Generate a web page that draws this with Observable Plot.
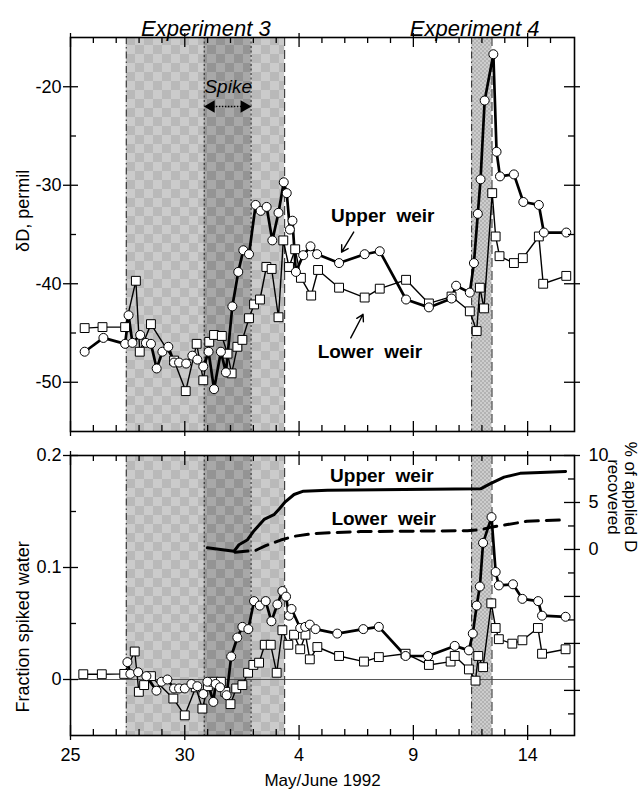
<!DOCTYPE html>
<html><head><meta charset="utf-8">
<script src="https://cdn.jsdelivr.net/npm/d3@7"></script>
<script src="https://cdn.jsdelivr.net/npm/@observablehq/plot@0.6"></script>
<style>
body{margin:0;background:#fff;}
#chart{width:641px;position:relative;}
#chart svg{display:block;}
</style></head><body>
<svg width="0" height="0" style="position:absolute;left:0;top:0">
<defs>
<pattern id="lightPat" width="18" height="18" patternUnits="userSpaceOnUse">
<rect width="18" height="18" fill="#cbcbcb"/>
<rect width="9" height="9" fill="#b9b9b9"/>
<rect x="9" y="9" width="9" height="9" fill="#b9b9b9"/>
</pattern>
<pattern id="darkPat" width="18" height="18" patternUnits="userSpaceOnUse">
<rect width="18" height="18" fill="#a8a8a8"/>
<rect width="9" height="9" fill="#949494"/>
<rect x="9" y="9" width="9" height="9" fill="#949494"/>
</pattern>
<pattern id="finePat" width="4" height="4" patternUnits="userSpaceOnUse">
<rect width="4" height="4" fill="#cdcdcd"/>
<rect width="2" height="2" fill="#b3b3b3"/>
<rect x="2" y="2" width="2" height="2" fill="#b3b3b3"/>
</pattern>
</defs>
</svg>
<div id="chart"></div>
<script>
// ---------- data (t = days after 25 May 1992) ----------
const dayMajor = [0, 5, 10, 15, 20];
const dayLabels = ["25", "30", "4", "9", "14"];
const dayMinor = [0,1,2,3,4,5,6,7,8,9,10,11,12,13,14,15,16,17,18,19,20,21];

const exp3 = [2.44, 9.37];
const spike = [5.85, 7.9];
const exp4 = [17.55, 18.44];

// top panel: deltaD (permil)
const upperDDay = [0.62,1.44,2.39,2.54,2.71,3.05,3.30,3.52,3.77,4.02,4.28,4.53,4.75,5.06,5.33,5.55,5.81,6.04,6.28,6.58,6.80,7.08,7.34,7.56,7.81,8.10,8.32,8.58,8.83,9.10,9.33,9.46,9.60,9.71,9.86,10.18,10.50,10.79,11.75,12.87,13.53,14.68,15.68,16.67,16.87,17.47,17.65,17.82,17.94,18.12,18.50,18.64,18.79,19.40,19.81,20.49,20.71,21.69];
const upperDVal = [-46.9,-45.5,-46.1,-43.2,-46.0,-45.2,-46.0,-46.1,-48.6,-46.9,-46.4,-48.0,-48.0,-48.1,-47.3,-47.7,-48.4,-46.9,-50.7,-46.9,-49.0,-42.3,-38.8,-36.6,-37.0,-32.0,-32.6,-32.2,-35.6,-32.8,-29.7,-30.8,-34.5,-33.6,-38.8,-37.1,-36.2,-37.0,-37.9,-37.0,-36.7,-41.6,-42.4,-41.5,-40.2,-40.9,-37.9,-32.9,-29.4,-21.4,-16.7,-26.6,-29.1,-28.9,-31.7,-32.0,-34.8,-34.8];
const lowerDDay = [0.62,1.40,2.39,2.86,3.03,3.52,4.53,5.04,5.52,5.81,6.07,6.28,6.62,6.87,7.05,7.30,7.52,7.81,8.03,8.29,8.57,8.80,9.10,9.31,9.56,9.83,10.08,10.53,10.83,11.75,12.87,13.53,14.68,15.68,16.67,17.47,17.77,17.91,18.09,18.45,18.60,18.77,19.40,19.79,20.49,20.68,21.69];
const lowerDVal = [-44.5,-44.4,-44.4,-39.7,-46.9,-44.1,-47.8,-50.9,-46.1,-49.8,-45.9,-45.2,-45.3,-47.1,-49.1,-46.4,-45.7,-43.5,-42.1,-41.6,-38.3,-38.5,-43.4,-35.6,-38.3,-36.5,-39.4,-41.2,-38.6,-40.4,-41.4,-40.5,-39.6,-42.0,-41.3,-42.8,-44.8,-40.4,-42.5,-30.8,-35.2,-37.2,-37.9,-37.4,-35.2,-40.0,-39.2];

// bottom panel: fraction spiked water
const upperFDay = [2.49,2.62,2.96,3.32,3.76,3.98,4.24,4.53,4.75,5.00,5.29,5.55,5.81,5.99,6.25,6.35,6.54,6.83,7.03,7.30,7.52,7.78,8.03,8.28,8.54,8.79,9.05,9.27,9.43,9.56,9.67,10.05,10.27,10.47,10.72,11.67,12.81,13.49,14.66,15.64,16.81,17.43,17.60,17.77,17.91,18.05,18.42,18.60,18.74,19.36,19.77,20.46,20.63,21.66];
const upperFVal = [0.0155,0.005,0.0065,0.003,-0.010,-0.002,0.000,-0.008,-0.008,-0.008,-0.004,-0.006,-0.013,-0.002,-0.020,-0.004,-0.007,-0.014,0.0205,0.0375,0.047,0.045,0.070,0.066,0.070,0.052,0.067,0.079,0.074,0.057,0.063,0.046,0.047,0.049,0.045,0.041,0.045,0.047,0.021,0.021,0.030,0.026,0.041,0.066,0.083,0.122,0.145,0.096,0.084,0.085,0.072,0.070,0.057,0.056];
const lowerFDay = [0.56,1.37,2.35,2.81,2.99,3.22,3.52,4.50,5.00,5.48,5.77,6.01,6.26,6.58,6.77,7.00,7.25,7.52,7.77,8.00,8.25,8.50,8.76,9.02,9.27,9.53,9.78,10.05,10.28,10.47,10.80,11.75,12.84,13.49,14.66,15.68,16.63,16.81,17.43,17.72,17.84,18.05,18.41,18.60,18.74,19.33,19.77,20.45,20.63,21.66];
const lowerFVal = [0.0047,0.0047,0.005,0.025,-0.011,-0.005,0.003,-0.017,-0.032,-0.007,-0.026,-0.006,-0.002,-0.002,-0.011,-0.022,-0.008,-0.005,0.006,0.013,0.015,0.031,0.031,0.006,0.044,0.031,0.040,0.027,0.040,0.018,0.029,0.021,0.016,0.020,0.023,0.013,0.016,0.021,0.009,-0.001,0.021,0.011,0.068,0.046,0.036,0.032,0.035,0.046,0.023,0.027];

// bottom panel: % of applied D recovered (right axis)
const upperCumDay = [5.99,7.15,7.37,7.73,8.03,8.47,8.90,9.13,9.37,9.78,10.19,11.24,17.94,18.37,18.97,19.67,20.56,21.66];
const upperCumVal = [0.18,-0.2,0.5,1.0,2.0,3.2,3.7,4.3,5.0,5.85,6.2,6.3,6.45,7.0,7.7,8.1,8.2,8.3];
const lowerCumDay = [7.2,8.10,8.54,9.20,9.78,10.65,12.69,17.37,17.94,18.45,19.11,19.97,21.66];
const lowerCumVal = [-0.3,-0.1,0.4,1.0,1.4,1.7,1.9,2.0,2.1,2.4,2.65,3.0,3.15];

const topYMajor = [-50, -40, -30, -20];
const topYMinor = [-45, -35, -25];
const botYMajor = [0, 0.1, 0.2];
const botYMinor = [0.05, 0.15];
const rightMajor = [-15, -10, -5, 0, 5, 10];
const rightMinor = [-17.5, -12.5, -7.5, -2.5, 2.5, 7.5];
const rightLabels = [0, 5, 10];

// ---------- layout ----------
const W = 641, ML = 70, MR = 67;
const FW = W - ML - MR;
const xDomain = [0, 22.05];
const TOP_H = 443, TOP_MT = 37, TOP_MB = 12;
const BOT_H = 351, BOT_MT = 12, BOT_MB = 59;
const TOP_FH = TOP_H - TOP_MT - TOP_MB;
const BOT_FH = BOT_H - BOT_MT - BOT_MB;
const FONT = "'Liberation Sans', Arial, Helvetica, sans-serif";
const rightDomain = [-19.8, 10];
const fDomain = [-0.05, 0.2];
const toF = r => fDomain[0] + (r - rightDomain[0]) / (rightDomain[1] - rightDomain[0]) * (fDomain[1] - fDomain[0]);

const zip = (a, b) => a.map((t, i) => ({t, v: b[i]}));
const upperD = zip(upperDDay, upperDVal), lowerD = zip(lowerDDay, lowerDVal);
const upperF = zip(upperFDay, upperFVal), lowerF = zip(lowerFDay, lowerFVal);
const upperCum = zip(upperCumDay, upperCumVal), lowerCum = zip(lowerCumDay, lowerCumVal);

function shading() {
  return [
    Plot.rect([exp3], {x1: d => d[0], x2: d => d[1], fill: "url(#lightPat)"}),
    Plot.rect([spike], {x1: d => d[0], x2: d => d[1], fill: "url(#darkPat)"}),
    Plot.rect([exp4], {x1: d => d[0], x2: d => d[1], fill: "url(#finePat)"}),
    Plot.ruleX([exp3[0], exp4[0]], {x: d => d, stroke: "#222", strokeWidth: 1, strokeDasharray: "7,3,1.5,3"}),
    Plot.ruleX([exp3[1], exp4[1]], {x: d => d, stroke: "#222", strokeWidth: 1, strokeDasharray: "9,4"}),
    Plot.ruleX(spike, {x: d => d, stroke: "#222", strokeWidth: 1, strokeDasharray: "2,2.5"})
  ];
}
function xTicks(fh, top, bottom) {
  const m = [];
  const sw = 1.3;
  if (top) {
    m.push(Plot.tickX(dayMajor, {x: d => d, stroke: "#000", strokeWidth: sw, insetTop: -4, insetBottom: fh - 10}));
    m.push(Plot.tickX(dayMinor.filter(d => !dayMajor.includes(d)), {x: d => d, stroke: "#000", strokeWidth: sw, insetTop: 0, insetBottom: fh - 6}));
  }
  if (bottom) {
    m.push(Plot.tickX(dayMajor, {x: d => d, stroke: "#000", strokeWidth: sw, insetBottom: -5, insetTop: fh - 10}));
    m.push(Plot.tickX(dayMinor.filter(d => !dayMajor.includes(d)), {x: d => d, stroke: "#000", strokeWidth: sw, insetBottom: 0, insetTop: fh - 6}));
  }
  return m;
}
function yTicks(major, minor, side, map = d => d) {
  const sw = 1.3;
  if (side === "left") return [
    Plot.tickY(major, {y: map, stroke: "#000", strokeWidth: sw, insetLeft: -7, insetRight: FW - 8}),
    Plot.tickY(minor, {y: map, stroke: "#000", strokeWidth: sw, insetLeft: 0, insetRight: FW - 6})
  ];
  return [
    Plot.tickY(major, {y: map, stroke: "#000", strokeWidth: sw, insetRight: -6, insetLeft: FW - 10}),
    Plot.tickY(minor, {y: map, stroke: "#000", strokeWidth: sw, insetRight: 0, insetLeft: FW - 6})
  ];
}

const topPlot = Plot.plot({
  width: W, height: TOP_H,
  marginTop: TOP_MT, marginBottom: TOP_MB, marginLeft: ML, marginRight: MR,
  x: {domain: xDomain, axis: null},
  y: {domain: [-55, -15], axis: null},
  style: {fontFamily: FONT, fontSize: "18px", color: "#000", background: "transparent", overflow: "visible"},
  marks: [
    ...shading(),
    Plot.line(lowerD, {x: "t", y: "v", stroke: "#000", strokeWidth: 1.4}),
    Plot.line(upperD, {x: "t", y: "v", stroke: "#000", strokeWidth: 2.7}),
    Plot.dot(lowerD, {x: "t", y: "v", symbol: "square", r: 5, fill: "#fff", stroke: "#000", strokeWidth: 1}),
    Plot.dot(upperD, {x: "t", y: "v", r: 4.5, fill: "#fff", stroke: "#000", strokeWidth: 1}),
    // annotations
    Plot.text(["Experiment 3"], {x: () => 5.92, frameAnchor: "top", dy: -17, fontSize: 22, fontStyle: "italic"}),
    Plot.text(["Experiment 4"], {x: () => 17.68, frameAnchor: "top", dy: -17, fontSize: 22, fontStyle: "italic"}),
    Plot.text(["Spike"], {x: () => 6.9, y: () => -20, fontSize: 19, fontStyle: "italic"}),
    Plot.ruleY([-22], {x1: spike[0] + 0.4, x2: spike[1] - 0.4, y: d => d, stroke: "#000", strokeWidth: 1.5, strokeDasharray: "1.5,1.5"}),
    Plot.dot([{x: spike[0] + 0.3, r: -90}, {x: spike[1] - 0.3, r: 90}], {x: "x", y: () => -22, rotate: "r", symbol: "triangle2", r: 6, fill: "#000"}),
    Plot.text(["Upper  weir"], {x: () => 13.66, y: () => -33.7, lineAnchor: "bottom", fontSize: 19, fontWeight: "bold"}),
    Plot.text(["Lower  weir"], {x: () => 13.1, y: () => -47.5, lineAnchor: "bottom", fontSize: 19, fontWeight: "bold"}),
    Plot.arrow([{x1: 12.39, y1: -34.75, x2: 11.86, y2: -36.8}], {x1: "x1", y1: "y1", x2: "x2", y2: "y2", stroke: "#000", strokeWidth: 1.4, headLength: 8}),
    Plot.arrow([{x1: 12.26, y1: -45.5, x2: 12.8, y2: -43.1}], {x1: "x1", y1: "y1", x2: "x2", y2: "y2", stroke: "#000", strokeWidth: 1.4, headLength: 8}),
    // axes
    Plot.text(topYMajor, {y: d => d, text: d => String(d), frameAnchor: "left", textAnchor: "end", dx: -9, fontSize: 18}),
    Plot.text(["δD, permil"], {y: () => -32.6, frameAnchor: "left", textAnchor: "middle", dx: -47, rotate: -90, fontSize: 18}),
    ...xTicks(TOP_FH, true, true),
    ...yTicks(topYMajor, topYMinor, "left"),
    ...yTicks(topYMajor, topYMinor, "right"),
    Plot.frame({stroke: "#000", strokeWidth: 1.6})
  ]
});

const botPlot = Plot.plot({
  width: W, height: BOT_H,
  marginTop: BOT_MT, marginBottom: BOT_MB, marginLeft: ML, marginRight: MR,
  x: {domain: xDomain, axis: null},
  y: {domain: fDomain, axis: null},
  style: {fontFamily: FONT, fontSize: "18px", color: "#000", background: "transparent", overflow: "visible"},
  marks: [
    ...shading(),
    Plot.ruleY([0], {stroke: "#444", strokeWidth: 0.9}),
    Plot.line(lowerF, {x: "t", y: "v", stroke: "#000", strokeWidth: 1.4}),
    Plot.line(upperF, {x: "t", y: "v", stroke: "#000", strokeWidth: 2.7}),
    Plot.dot(lowerF, {x: "t", y: "v", symbol: "square", r: 5, fill: "#fff", stroke: "#000", strokeWidth: 1}),
    Plot.dot(upperF, {x: "t", y: "v", r: 4.5, fill: "#fff", stroke: "#000", strokeWidth: 1}),
    Plot.line(upperCum, {x: "t", y: d => toF(d.v), stroke: "#000", strokeWidth: 3}),
    Plot.line(lowerCum, {x: "t", y: d => toF(d.v), stroke: "#000", strokeWidth: 3, strokeDasharray: "13,8"}),
    Plot.text(["Upper  weir"], {x: () => 13.62, y: () => 0.176, lineAnchor: "bottom", fontSize: 19, fontWeight: "bold"}),
    Plot.text(["Lower  weir"], {x: () => 13.7, y: () => 0.138, lineAnchor: "bottom", fontSize: 19, fontWeight: "bold"}),
    // axes
    Plot.text(botYMajor, {y: d => d, text: d => String(d), frameAnchor: "left", textAnchor: "end", dx: -9, fontSize: 18}),
    Plot.text(["Fraction spiked water"], {y: () => 0.047, frameAnchor: "left", textAnchor: "middle", dx: -47, rotate: -90, fontSize: 18}),
    Plot.text(rightLabels, {y: d => toF(d), text: d => String(d), frameAnchor: "right", textAnchor: "start", dx: 14, fontSize: 18}),
    Plot.text(["% of applied D"], {y: () => 0.163, frameAnchor: "right", textAnchor: "middle", dx: 56, rotate: 90, fontSize: 17}),
    Plot.text(["recovered"], {y: () => 0.163, frameAnchor: "right", textAnchor: "middle", dx: 39, rotate: 90, fontSize: 17}),
    Plot.text(dayMajor, {x: d => d, text: d => dayLabels[dayMajor.indexOf(d)], frameAnchor: "bottom", lineAnchor: "top", dy: 13, fontSize: 18}),
    Plot.text(["May/June 1992"], {frameAnchor: "bottom", lineAnchor: "top", dy: 38, fontSize: 17}),
    ...xTicks(BOT_FH, true, true),
    ...yTicks(botYMajor, botYMinor, "left"),
    ...yTicks(rightMajor, rightMinor, "right", d => toF(d)),
    Plot.frame({stroke: "#000", strokeWidth: 1.6})
  ]
});

const chart = document.getElementById("chart");
chart.append(topPlot, botPlot);
</script>
</body></html>
